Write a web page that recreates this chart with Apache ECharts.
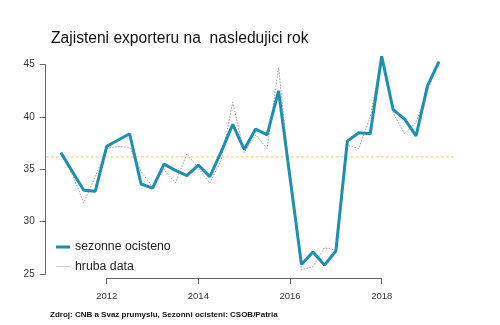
<!DOCTYPE html>
<html>
<head>
<meta charset="utf-8">
<script src="https://cdn.jsdelivr.net/npm/echarts@6/dist/echarts.min.js"></script>
<style>html,body{margin:0;padding:0;background:#fff;}#c{width:500px;height:325px;}</style>
</head>
<body>
<div id="c"></div>
<script>
// Quarterly data, first point = 2011 Q1
const startYear = 2011;
const seasonal = [36.6, 34.8, 33.0, 32.9, 37.2, 37.8, 38.4, 33.6, 33.2, 35.5, 34.9, 34.4, 35.4, 34.3, 36.7, 39.3, 36.9, 38.85, 38.3, 42.5, 34.2, 25.9, 27.1, 25.85, 27.2, 37.7, 38.5, 38.4, 45.8, 40.7, 39.8, 38.2, 43.0, 45.3];
const raw = [36.6, 34.5, 31.8, 34.3, 37.0, 37.2, 37.1, 34.8, 33.3, 35.0, 33.7, 36.5, 35.1, 33.7, 35.9, 41.4, 36.6, 38.3, 37.0, 44.7, 34.2, 25.4, 25.7, 27.5, 27.3, 37.3, 37.0, 40.0, 45.8, 40.4, 38.4, 39.5, 42.5, 45.3];
const avgLevel = 36.2;
const xTicks = [2012, 2014, 2016, 2018];
const yTicks = [25, 30, 35, 40, 45];
const titleText = 'Zajisteni exporteru na  nasledujici rok';
const sourceText = 'Zdroj: CNB a Svaz prumyslu, Sezonni ocisteni: CSOB/Patria';
const names = ['sezonne ocisteno', 'hruba data'];

const times = seasonal.map((_, i) => startYear + i / 4);
const tMin = times[0], tMax = times[times.length - 1];
const ext = (tMax - tMin) * 0.04;
const FONT = 'Liberation Sans, Arial, sans-serif';

// pixel layout: axis grid spans the tick range; data grid spans the full plot region
const axLeft = 106.7, axRight = 381.7;
const pxPerYear = (axRight - axLeft) / (xTicks[xTicks.length - 1] - xTicks[0]);
const dataLeft = axLeft - (xTicks[0] - (tMin - ext)) * pxPerYear;
const dataRight = axLeft + ((tMax + ext) - xTicks[0]) * pxPerYear;
const gTop = 64.7, gHeight = 209.3;

const SEAS_COLOR = '#1e8fb0';
const RAW_COLOR = '#9a9a9a';

const chart = echarts.init(document.getElementById('c'), null, {renderer: 'canvas'});
chart.setOption({
  backgroundColor: '#fff',
  animation: false,
  title: [
    {text: titleText, left: 46, top: 26,
     textStyle: {fontFamily: FONT, fontSize: 15.6, fontWeight: 'normal', color: '#111'}},
    {text: sourceText, left: 45, top: 306,
     textStyle: {fontFamily: FONT, fontSize: 8, fontWeight: 'bold', color: '#111'}}
  ],
  legend: [
    {orient: 'vertical', left: 51, top: 236, itemWidth: 14, itemHeight: 3, icon: 'rect',
     textStyle: {fontFamily: FONT, fontSize: 12.3, color: '#222'}, data: [names[0]]},
    {orient: 'vertical', left: 51, top: 255.5, itemWidth: 14, itemHeight: 1, icon: 'rect',
     itemStyle: {color: '#c8c8c8'},
     textStyle: {fontFamily: FONT, fontSize: 12.3, color: '#222'}, data: [names[1]]}
  ],
  grid: [
    {left: axLeft, width: axRight - axLeft, top: gTop, height: gHeight},
    {left: dataLeft, width: dataRight - dataLeft, top: gTop, height: gHeight}
  ],
  xAxis: [
    {gridIndex: 0, type: 'value', min: xTicks[0], max: xTicks[xTicks.length - 1], interval: 2, offset: 4,
     axisLine: {lineStyle: {color: '#666', width: 1}},
     axisTick: {length: 6, lineStyle: {color: '#666'}},
     axisLabel: {margin: 13, fontFamily: FONT, fontSize: 9.5, color: '#333', formatter: v => String(v)},
     splitLine: {show: false}},
    {gridIndex: 1, type: 'value', min: tMin - ext, max: tMax + ext, show: false}
  ],
  yAxis: [
    {gridIndex: 0, type: 'value', min: yTicks[0], max: yTicks[yTicks.length - 1], interval: 5, offset: axLeft - dataLeft,
     axisLine: {show: true, lineStyle: {color: '#666', width: 1}},
     axisTick: {show: true, length: 6, lineStyle: {color: '#666'}},
     axisLabel: {margin: 11, fontFamily: FONT, fontSize: 10, color: '#333'},
     splitLine: {show: false}},
    {gridIndex: 1, type: 'value', min: yTicks[0], max: yTicks[yTicks.length - 1], show: false}
  ],
  series: [
    {name: 'avg', type: 'line', xAxisIndex: 1, yAxisIndex: 1, clip: false, symbol: 'none', silent: true,
     data: [[tMin - ext, avgLevel], [tMax + ext, avgLevel]],
     lineStyle: {color: '#f3d77c', width: 1.2, type: [3, 2]}, z: 1},
    {name: names[1], type: 'line', xAxisIndex: 1, yAxisIndex: 1, clip: false, symbol: 'none',
     data: raw.map((v, i) => [times[i], v]),
     lineStyle: {color: RAW_COLOR, width: 1, type: [1.5, 1.5]}, itemStyle: {color: RAW_COLOR}, z: 2},
    {name: names[0], type: 'line', xAxisIndex: 1, yAxisIndex: 1, clip: false, symbol: 'none',
     data: seasonal.map((v, i) => [times[i], v]),
     lineStyle: {color: SEAS_COLOR, width: 3}, itemStyle: {color: SEAS_COLOR}, z: 3}
  ]
});
</script>
</body>
</html>
